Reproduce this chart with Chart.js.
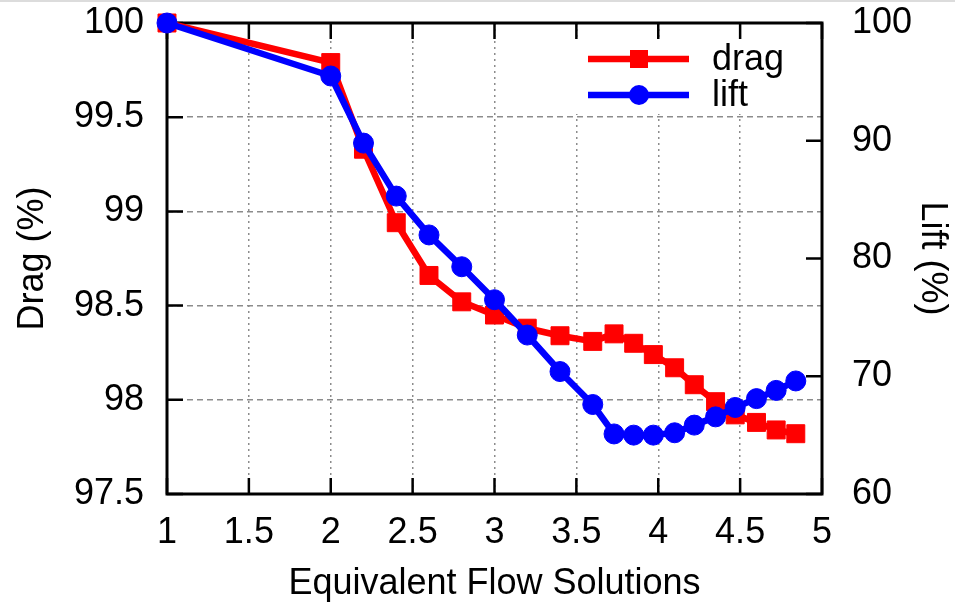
<!DOCTYPE html>
<html>
<head>
<meta charset="utf-8">
<script src="https://cdn.jsdelivr.net/npm/chart.js@4/dist/chart.umd.min.js"></script>
<style>
html, body { margin: 0; padding: 0; background: #fff; }
#c { display: block; }
</style>
</head>
<body>
<canvas id="c" width="955" height="607"></canvas>
<script>
// values
const flowSolutions = [1, 2, 2.2, 2.4, 2.6, 2.8, 3.0, 3.2, 3.4, 3.6, 3.73, 3.85, 3.97, 4.10, 4.22, 4.35, 4.47, 4.60, 4.72, 4.84];
const dragPct = [100, 99.79, 99.33, 98.94, 98.66, 98.52, 98.45, 98.38, 98.34, 98.31, 98.35, 98.30, 98.24, 98.17, 98.08, 97.99, 97.92, 97.88, 97.84, 97.82];
const liftPct = [100, 95.5, 89.8, 85.3, 82.0, 79.3, 76.5, 73.5, 70.4, 67.6, 65.1, 65.0, 65.0, 65.2, 65.85, 66.55, 67.35, 68.1, 68.8, 69.6];
const seriesNames = ['drag', 'lift'];
const xRange = [1, 5, 0.5];
const dragRange = [97.5, 100, 0.5];
const liftRange = [60, 100, 10];

const RED = '#ff0000', BLUE = '#0000ff';
const FONT = { family: '"Liberation Sans", Arial, Helvetica, sans-serif', size: 36 };
const TICK = 16;

const toPts = ys => ys.map((y, i) => ({ x: flowSolutions[i], y }));
const gridColor = c => (c.tick && (c.tick.value === c.scale.min || c.tick.value === c.scale.max)) ? 'rgba(0,0,0,0)' : '#8c8c8c';
const plainNum = v => String(v);
const noPad = s => { s.paddingTop = 0; s.paddingBottom = 0; s.paddingLeft = 0; s.paddingRight = 0; };

const frame = {
    id: 'frame',
    beforeDraw(chart) {
        const ctx = chart.ctx;
        ctx.save();
        ctx.fillStyle = '#fff'; ctx.fillRect(0, 0, chart.width, chart.height);
        ctx.fillStyle = '#dcdcdc'; ctx.fillRect(0, 0, chart.width, 2);
        ctx.restore();
    },
    beforeDatasetsDraw(chart) {
        const { ctx, chartArea: a, scales } = chart;
        ctx.save();
        // opaque key box
        ctx.fillStyle = '#fff';
        ctx.fillRect(560, a.top + 18, a.right - 562, 73);
        // border
        ctx.strokeStyle = '#000'; ctx.lineWidth = 3;
        ctx.strokeRect(a.left, a.top, a.right - a.left, a.bottom - a.top);
        // inward ticks
        ctx.lineWidth = 2.5;
        ctx.beginPath();
        scales.x.ticks.forEach(t => {
            const px = scales.x.getPixelForValue(t.value);
            ctx.moveTo(px, a.bottom); ctx.lineTo(px, a.bottom - TICK);
            ctx.moveTo(px, a.top); ctx.lineTo(px, a.top + TICK);
        });
        scales.y.ticks.forEach(t => {
            const py = scales.y.getPixelForValue(t.value);
            ctx.moveTo(a.left, py); ctx.lineTo(a.left + TICK, py);
        });
        scales.y1.ticks.forEach(t => {
            const py = scales.y1.getPixelForValue(t.value);
            ctx.moveTo(a.right, py); ctx.lineTo(a.right - TICK, py);
        });
        ctx.stroke();
        // key
        const keys = [[seriesNames[0], RED, 'rect', 59], [seriesNames[1], BLUE, 'circle', 95]];
        keys.forEach(([name, col, shape, y]) => {
            ctx.strokeStyle = col; ctx.fillStyle = col; ctx.lineWidth = 6.5;
            ctx.beginPath(); ctx.moveTo(588, y); ctx.lineTo(689, y); ctx.stroke();
            ctx.beginPath();
            if (shape === 'rect') ctx.rect(630, y - 9, 18, 18);
            else ctx.arc(639, y, 10, 0, Math.PI * 2);
            ctx.fill();
            ctx.fillStyle = '#000';
            ctx.font = `${FONT.size}px ${FONT.family}`;
            ctx.textBaseline = 'middle'; ctx.textAlign = 'left';
            ctx.fillText(name, 712, y + 1);
        });
        ctx.restore();
    }
};

new Chart(document.getElementById('c'), {
    type: 'line',
    data: {
        datasets: [
            { label: seriesNames[0], data: toPts(dragPct), yAxisID: 'y', borderColor: RED, backgroundColor: RED,
              borderWidth: 6.5, pointStyle: 'rect', pointRadius: 12.7, pointBorderWidth: 1, pointBorderColor: RED,
              pointBackgroundColor: RED, tension: 0, clip: false, order: 2 },
            { label: seriesNames[1], data: toPts(liftPct), yAxisID: 'y1', borderColor: BLUE, backgroundColor: BLUE,
              borderWidth: 6.5, pointStyle: 'circle', pointRadius: 10, pointBorderWidth: 1, pointBorderColor: BLUE,
              pointBackgroundColor: BLUE, tension: 0, clip: false, order: 1 }
        ]
    },
    options: {
        responsive: false,
        animation: false,
        devicePixelRatio: 1,
        layout: { padding: { top: 23, left: 0, right: 0, bottom: 0 } },
        plugins: { legend: { display: false }, tooltip: { enabled: false } },
        elements: { line: { borderJoinStyle: 'round' } },
        scales: {
            x: {
                type: 'linear', min: xRange[0], max: xRange[1],
                ticks: { stepSize: xRange[2], color: '#000', font: FONT, padding: 17, maxRotation: 0, callback: plainNum },
                grid: { color: gridColor, lineWidth: 1.5, drawTicks: false },
                border: { display: false, dash: [2, 4] },
                title: { display: true, text: 'Equivalent Flow Solutions', color: '#000', font: FONT, padding: { top: 0, bottom: 1 } },
                afterFit: s => { s.height = 113; noPad(s); }
            },
            y: {
                position: 'left', min: dragRange[0], max: dragRange[1],
                ticks: { stepSize: dragRange[2], color: '#000', font: FONT, padding: 23, callback: plainNum },
                grid: { color: gridColor, lineWidth: 1.5, drawTicks: false },
                border: { display: false, dash: [6, 4] },
                title: { display: true, text: 'Drag (%)', color: '#000', font: FONT, padding: { top: 11, bottom: 0 } },
                afterFit: s => { s.width = 167; noPad(s); }
            },
            y1: {
                position: 'right', min: liftRange[0], max: liftRange[1],
                ticks: { stepSize: liftRange[2], color: '#000', font: FONT, padding: 30, callback: plainNum },
                grid: { display: false, drawTicks: false },
                border: { display: false },
                title: { display: true, text: 'Lift (%)', color: '#000', font: FONT, padding: { top: 1, bottom: 0 } },
                afterFit: s => { s.width = 133; noPad(s); }
            }
        }
    },
    plugins: [frame]
});
</script>
</body>
</html>
